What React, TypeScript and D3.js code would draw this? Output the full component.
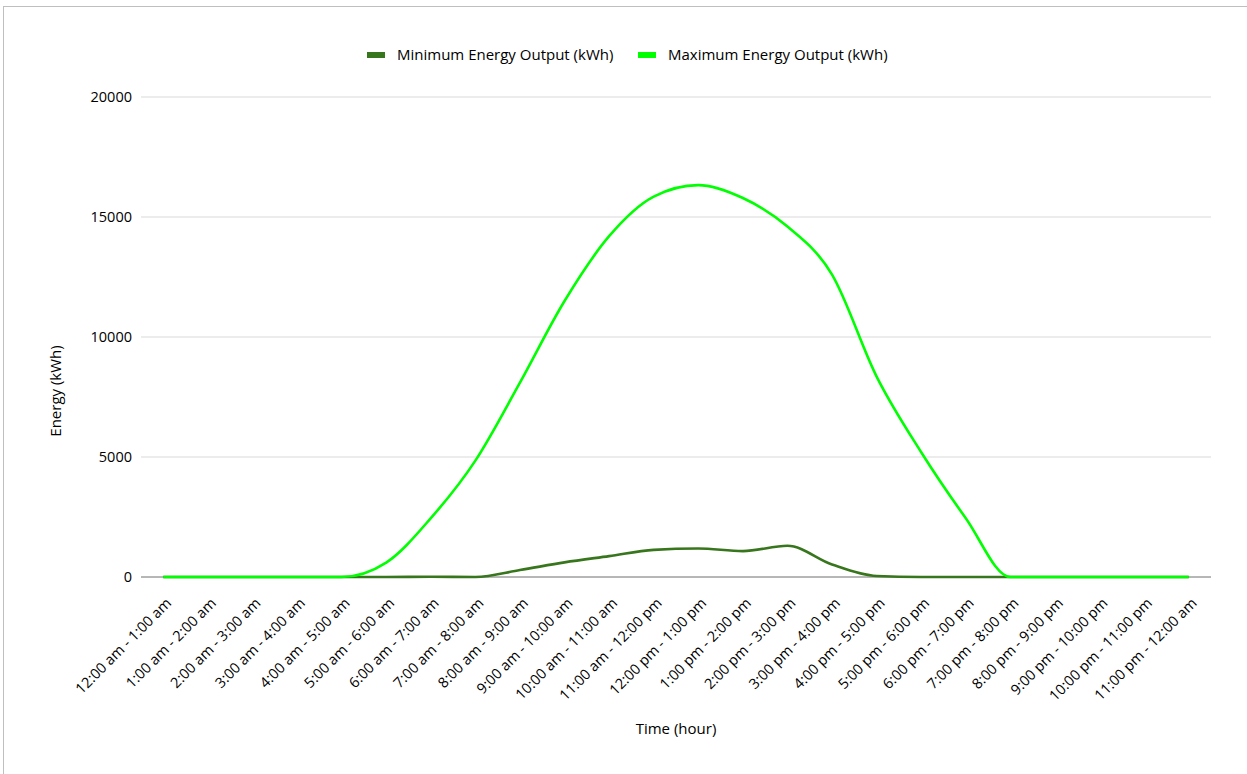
import React from "react";
import * as d3 from "d3";

// Hourly time slots shown along the x axis
const hours: string[] = [
  "12:00 am - 1:00 am", "1:00 am - 2:00 am", "2:00 am - 3:00 am", "3:00 am - 4:00 am",
  "4:00 am - 5:00 am", "5:00 am - 6:00 am", "6:00 am - 7:00 am", "7:00 am - 8:00 am",
  "8:00 am - 9:00 am", "9:00 am - 10:00 am", "10:00 am - 11:00 am", "11:00 am - 12:00 pm",
  "12:00 pm - 1:00 pm", "1:00 pm - 2:00 pm", "2:00 pm - 3:00 pm", "3:00 pm - 4:00 pm",
  "4:00 pm - 5:00 pm", "5:00 pm - 6:00 pm", "6:00 pm - 7:00 pm", "7:00 pm - 8:00 pm",
  "8:00 pm - 9:00 pm", "9:00 pm - 10:00 pm", "10:00 pm - 11:00 pm", "11:00 pm - 12:00 am",
];

// Energy output per hour (kWh)
const minEnergy: number[] = [
  0, 0, 0, 0, 0, 0, 10, 0, 290, 610, 870, 1130,
  1190, 1080, 1300, 520, 40, 0, 0, 0, 0, 0, 0, 0,
];
const maxEnergy: number[] = [
  0, 0, 0, 0, 0, 600, 2450, 4850, 8100, 11500, 14200, 15850,
  16330, 15790, 14600, 12600, 8350, 5200, 2450, 0, 0, 0, 0, 0,
];

const yTicks: number[] = [0, 5000, 10000, 15000, 20000];

const seriesNames = ["Minimum Energy Output (kWh)", "Maximum Energy Output (kWh)"];
const seriesColors = ["#38761d", "#00ff00"];

const W = 1247;
const H = 774;
const FONT = "'Open Sans', sans-serif";
const FS = 14.5;

export default function App() {
  const left = 141;
  const right = 1211;
  const top = 97;
  const bottom = 577;

  const x = d3.scaleBand<string>().domain(hours).range([left, right]);
  const y = d3.scaleLinear().domain([0, 20000]).range([bottom, top]);
  const cx = (h: string) => (x(h) as number) + x.bandwidth() / 2;

  const line = d3
    .line<number>()
    .x((_, i) => cx(hours[i]))
    .y((v) => y(v))
    .curve(d3.curveMonotoneX);

  const series = [minEnergy, maxEnergy];

  return (
    <svg
      width={W}
      height={H}
      style={{ position: "absolute", left: 0, top: 0, background: "#fff" }}
      fontFamily={FONT}
    >
      <rect x={3.5} y={6.5} width={W + 10} height={H + 10} fill="#fff" stroke="#bfbfbf" strokeWidth={1} />

      {/* gridlines */}
      {yTicks.map((t) => (
        <line
          key={t}
          x1={left}
          x2={right}
          y1={y(t)}
          y2={y(t)}
          stroke={t === 0 ? "#6e6e6e" : "#d9d9d9"}
          strokeWidth={1}
        />
      ))}

      {/* y tick labels */}
      {yTicks.map((t) => (
        <text
          key={"yl" + t}
          x={132}
          y={y(t)}
          dy="0.35em"
          textAnchor="end"
          fontSize={FS}
          fill="#000"
        >
          {t}
        </text>
      ))}

      {/* x tick labels */}
      {hours.map((h) => (
        <text
          key={h}
          transform={`translate(${cx(h) + 9},${604}) rotate(-45)`}
          textAnchor="end"
          fontSize={FS}
          fill="#000"
        >
          {h}
        </text>
      ))}

      {/* series lines */}
      {series.map((s, k) => (
        <path
          key={k}
          d={line(s) || ""}
          fill="none"
          stroke={seriesColors[k]}
          strokeWidth={2.6}
          strokeLinejoin="round"
        />
      ))}

      {/* axis titles */}
      <text
        transform={`translate(56,${(top + bottom) / 2 + 54}) rotate(-90)`}
        textAnchor="middle"
        dy="0.35em"
        fontSize={15}
        fill="#000"
      >
        Energy (kWh)
      </text>
      <text x={676} y={729} dy="0.35em" textAnchor="middle" fontSize={15} fill="#000">
        Time (hour)
      </text>

      {/* legend */}
      {[367, 638].map((lx, k) => (
        <g key={"lg" + k}>
          <rect x={lx} y={52} width={18} height={6} fill={seriesColors[k]} />
          <text x={lx + 30} y={55} dy="0.35em" fontSize={15} fill="#000">
            {seriesNames[k]}
          </text>
        </g>
      ))}
    </svg>
  );
}
